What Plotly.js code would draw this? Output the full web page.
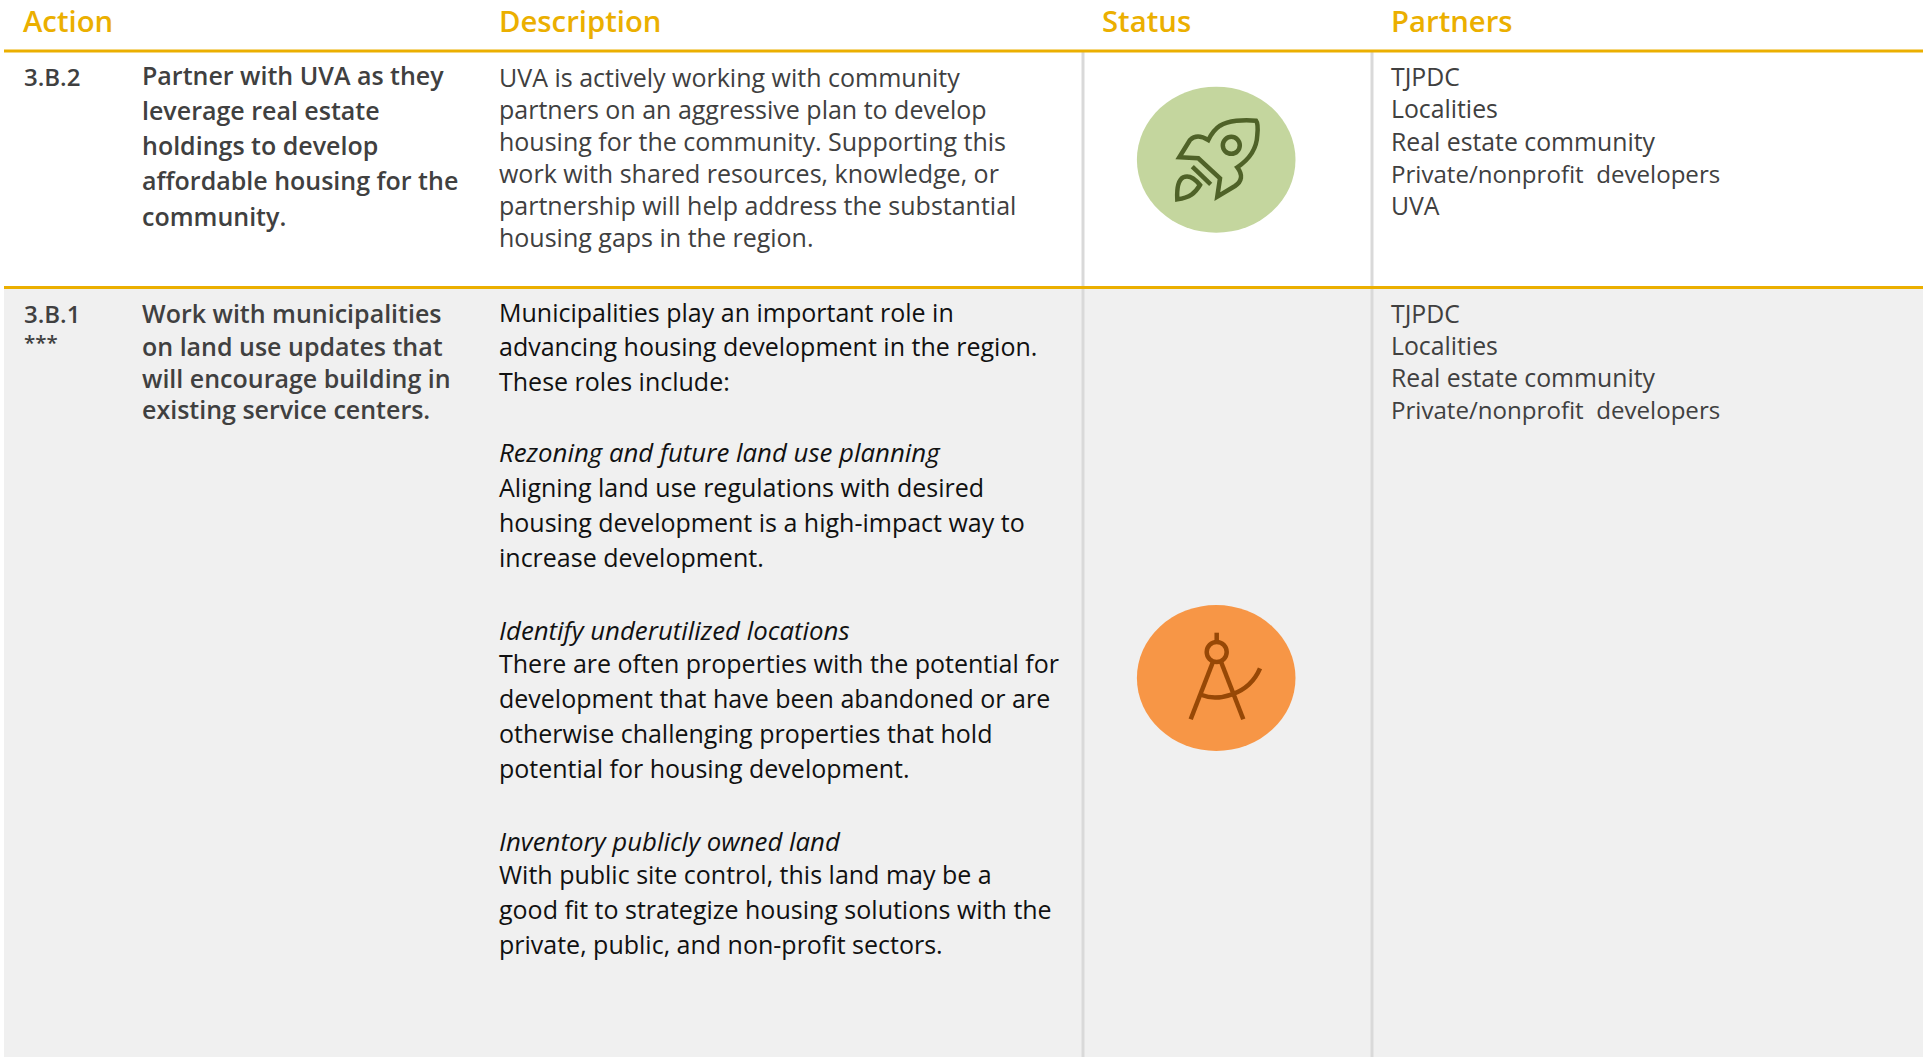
<!DOCTYPE html>
<html><head><meta charset="utf-8">
<script src="https://cdn.plot.ly/plotly-3.0.1.min.js"></script>
<style>html,body{margin:0;padding:0;background:#fff;overflow:hidden}</style>
</head><body><div id="chart" style="width:1923px;height:1057px"></div>
<script>
const FONT = '"Open Sans", "Noto Sans", sans-serif';
const headers = ['Action','Description','Status','Partners'];
const headerX = [21,497,1100,1389];
const codes = ['3.B.2','3.B.1','***'];
const codeY = [76,313,342];
const titleA = ['Partner with UVA as they','leverage real estate','holdings to develop','affordable housing for the','community.'];
const titleAY = [75,110,145,180,216];
const titleB = ['Work with municipalities','on land use updates that','will encourage building in','existing service centers.'];
const titleBY = [313,346,378,409];
const descA = ['UVA is actively working with community','partners on an aggressive plan to develop','housing for the community. Supporting this','work with shared resources, knowledge, or','partnership will help address the substantial','housing gaps in the region.'];
const descAY = [77,109,141,173,205,237];
const descB = ['Municipalities play an important role in','advancing housing development in the region.','These roles include:','<i>Rezoning and future land use planning</i>','Aligning land use regulations with desired','housing development is a high-impact way to','increase development.','<i>Identify underutilized locations</i>','There are often properties with the potential for','development that have been abandoned or are','otherwise challenging properties that hold','potential for housing development.','<i>Inventory publicly owned land</i>','With public site control, this land may be a','good fit to strategize housing solutions with the','private, public, and non-profit sectors.'];
const descBY = [312,346,381,452,487,522,557,630,663,698,733,768,841,874,909,944];
const partnersA = ['TJPDC','Localities','Real estate community','Private/nonprofit  developers','UVA'];
const partnersAY = [76,108,141,173,205];
const partnersB = ['TJPDC','Localities','Real estate community','Private/nonprofit  developers'];
const partnersBY = [313,345,377,409];

const anns = [];
function put(lines, ys, x, size, color, weight){
  lines.forEach((t,i)=>{
    let s=size;
    if(t.startsWith('<i>')) s=25.8;
    if(t.startsWith('Private/')) s=24.1;
    anns.push({text:t,x:x,y:ys[i],xref:'x',yref:'y',xanchor:'left',yanchor:'middle',showarrow:false,align:'left',
    font:{family:FONT,size:s,color:color,weight:weight||400}});
  });
}
headers.forEach((h,i)=>put([h],[21],headerX[i],29.3,'#EBAF00',600));
codes.forEach((c,i)=>put([c],[codeY[i]],22,i==2?20.5:24,'#404040',600));
put(titleA,titleAY,140,25,'#404040',600);
put(titleB,titleBY,140,25,'#404040',600);
put(descA,descAY,497,25,'#404040');
put(descB,descBY,497,25,'#111111');
put(partnersA,partnersAY,1389,24.8,'#404040');
put(partnersB,partnersBY,1389,24.8,'#404040');

function z(d,ox,oy){let k=0;return d.replace(/-?\d+(\.\d+)?/g,m=>{const v=+m/3+(k++%2==0?ox:oy);return v.toFixed(1);});}
function stroke(d,ox,oy,c){return {type:'path',path:z(d,ox,oy),xref:'x',yref:'y',line:{color:c,width:4.5},fillcolor:'rgba(0,0,0,0)',layer:'above'};}
function ell(cx,cy,rx,ry,c){return {type:'circle',xref:'x',yref:'y',x0:cx-rx,x1:cx+rx,y0:cy-ry,y1:cy+ry,fillcolor:c,line:{width:0},layer:'above'};}
function ring(cx,cy,r,c){return {type:'circle',xref:'x',yref:'y',x0:cx-r,x1:cx+r,y0:cy-r,y1:cy+r,fillcolor:'rgba(0,0,0,0)',line:{color:c,width:4.5},layer:'above'};}
function rule(x0,y0,x1,y1,c,w){return {type:'line',xref:'x',yref:'y',x0,y0,x1,y1,line:{color:c,width:w},layer:'below'};}
const G='#4F6228', O='#974806', R=[1100,60], C=[1100,581];
const shapes=[
 {type:'rect',xref:'x',yref:'y',x0:4,x1:1923,y0:288,y1:1057,fillcolor:'#F0F0F0',line:{width:0},layer:'below'},
 rule(1083,52,1083,1057,'#D9D9D9',3), rule(1372,52,1372,1057,'#D9D9D9',3),
 rule(4,51,1923,51,'#EBAF00',3), rule(4,287.5,1923,287.5,'#EBAF00',3),
 ell(1216.2,159.7,79.3,73,'#C4D69E'), ell(1216.2,678,79.3,73,'#F79646'),
 stroke('M468,182 C430,178 385,182 360,197 C345,207 335,220 325,240 C305,228 285,225 270,240 L238,292 L295,295 L360,355 L352,410 L405,378 C425,365 430,345 412,322 C445,300 470,270 472,225 C474,205 474,190 468,182 Z',R[0],R[1],G),
 ring(1231.3,145.3,8.5,G),
 stroke('M277,320 L332,373',R[0],R[1],G),
 stroke('M232,418 C230,385 235,360 250,352 C265,345 280,350 300,375 C285,400 270,412 232,418 Z',R[0],R[1],G),
 ring(1216.7,652,10,O),
 stroke('M350,155 L350,183',C[0],C[1],O),
 stroke('M340,240 L272,415',C[0],C[1],O),
 stroke('M362,240 L430,415',C[0],C[1],O),
 stroke('M305,342 C350,360 445,345 480,262',C[0],C[1],O)
];
Plotly.newPlot('chart',[],{
 width:1923,height:1057,margin:{l:0,r:0,t:0,b:0},paper_bgcolor:'#fff',plot_bgcolor:'#fff',showlegend:false,
 xaxis:{range:[0,1923],visible:false,fixedrange:true},
 yaxis:{range:[1057,0],visible:false,fixedrange:true},
 shapes:shapes,annotations:anns
},{displayModeBar:false,staticPlot:true});
</script></body></html>
